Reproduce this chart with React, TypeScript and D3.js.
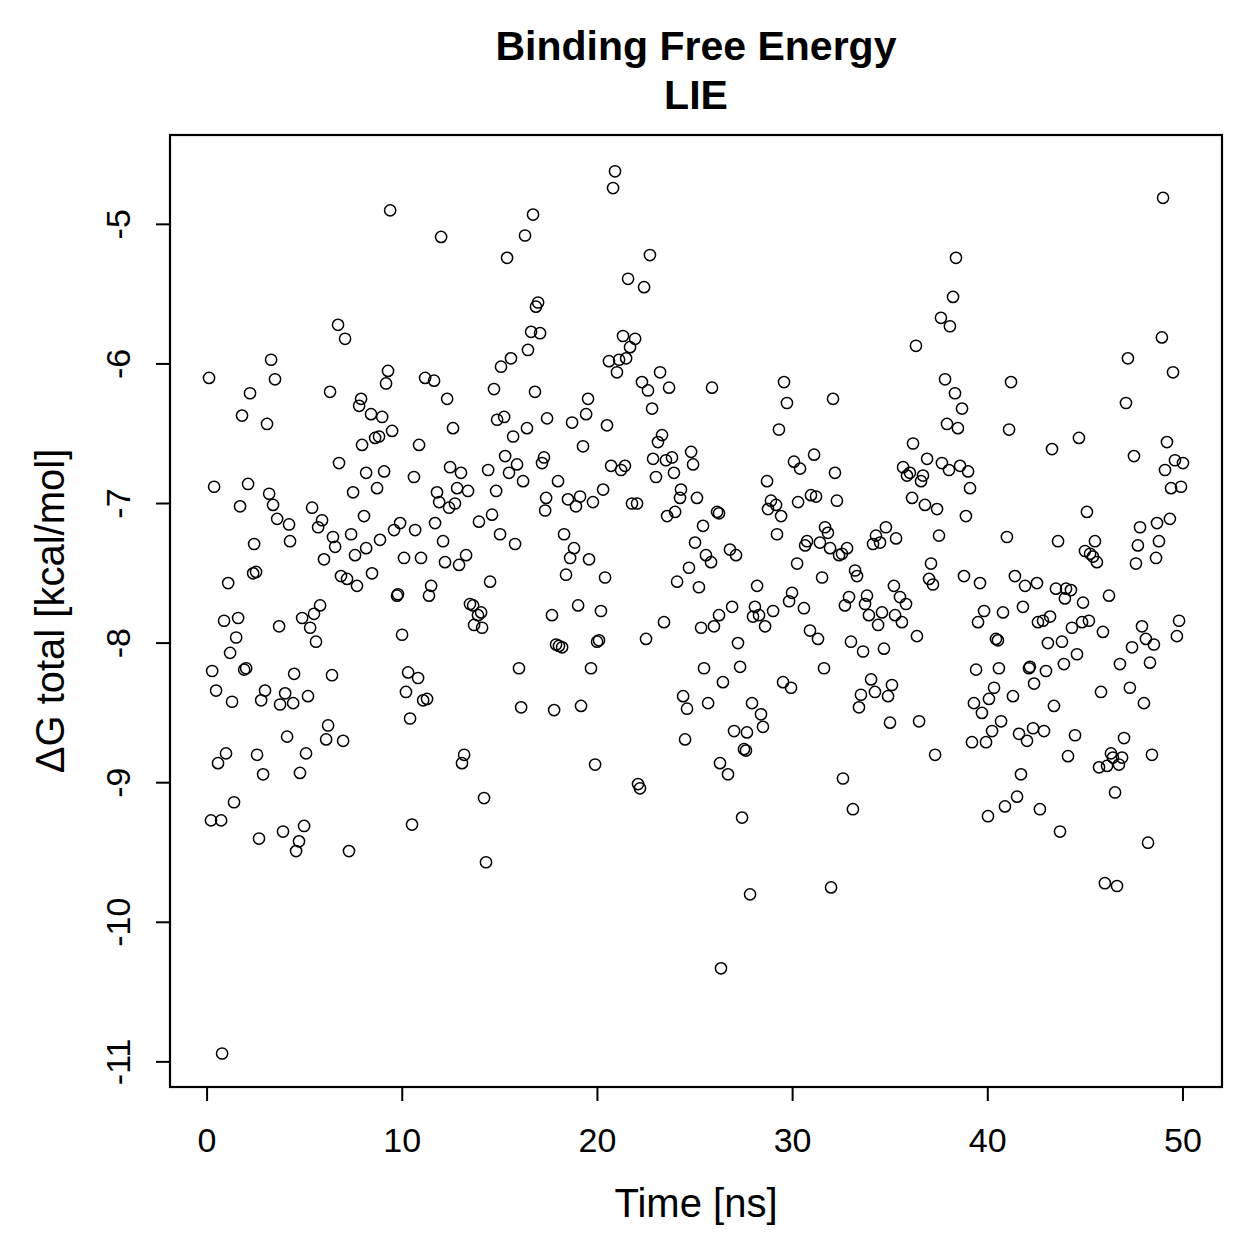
import React from "react";
import * as d3 from "d3";

// Simulation time (ns) of each LIE sample
const timeNs: number[] = [
  0.10,0.20,0.26,0.36,0.46,0.56,0.72,0.77,0.87,0.97,
  1.18,1.08,1.28,1.38,1.49,1.59,1.69,1.79,1.90,2.00,
  2.10,2.20,2.41,2.36,2.51,2.56,2.66,2.77,2.87,2.97,
  3.07,3.18,3.28,3.38,3.48,3.59,3.69,3.74,3.89,4.00,
  4.10,4.20,4.25,4.41,4.46,4.56,4.71,4.76,4.87,4.97,
  5.07,5.17,5.28,5.38,5.48,5.58,5.69,5.79,5.89,5.99,
  6.10,6.20,6.30,6.40,6.45,6.56,6.71,6.76,6.86,6.97,
  7.07,7.17,7.27,7.38,7.48,7.58,7.68,7.79,7.89,7.94,
  8.04,8.15,8.15,
  8.40,8.45,8.61,8.71,8.81,8.86,8.97,9.07,9.17,9.27,
  9.38,9.48,9.58,9.73,9.78,9.89,9.99,10.09,10.19,10.30,
  10.40,10.50,10.60,10.66,10.81,10.86,10.96,11.07,11.17,11.27,
  11.37,11.48,11.63,11.68,11.78,11.89,11.99,12.09,12.19,12.30,
  12.40,12.45,12.60,12.70,12.81,12.91,13.01,13.06,13.17,13.27,
  13.37,13.47,13.63,13.68,13.88,14.04,14.09,13.93,14.19,14.29,
  14.40,14.50,14.60,14.70,14.81,14.86,15.01,15.06,15.22,15.27,
  15.37,15.47,15.57,15.68,15.78,15.88,15.98,16.09,16.19,16.29,
  16.39,16.44,16.60,16.70,16.80,16.85,16.96,17.06,17.16,17.26,
  17.37,17.32,
  17.42,17.67,17.78,17.88,17.98,18.03,18.19,18.29,18.39,18.49,
  18.60,18.70,18.80,18.90,19.01,19.11,19.16,19.26,19.42,19.52,
  19.57,19.67,19.77,19.88,19.98,20.08,20.18,20.29,20.39,20.49,
  20.59,20.70,20.80,20.90,21.00,21.11,21.21,21.31,21.41,21.47,
  21.57,21.67,21.77,21.93,22.03,22.08,22.18,22.28,22.39,22.49,
  22.59,22.69,22.80,22.85,23.00,23.10,23.21,23.31,23.41,23.51,
  23.57,23.67,23.82,23.92,23.98,24.08,24.23,24.28,24.39,24.49,
  24.59,24.69,24.80,24.90,25.00,25.10,25.20,25.31,25.41,25.46,
  25.56,25.67,25.82,25.87,25.97,26.13,26.23,26.23,26.28,26.33,
  26.43,26.69,26.79,26.90,27.00,27.10,27.20,27.31,27.41,27.51,
  27.61,27.66,27.82,27.92,27.97,28.07,28.18,28.28,28.38,28.48,
  28.59,28.69,28.74,28.89,29.00,29.15,29.20,29.30,29.41,29.51,
  29.56,29.71,29.82,29.92,29.97,30.07,30.23,30.28,30.38,30.58,
  30.64,30.74,30.89,30.94,31.10,31.20,31.30,31.40,31.51,31.61,
  31.66,31.81,31.92,31.97,32.07,32.17,32.27,32.38,32.53,32.58,
  32.68,32.79,32.89,32.99,33.09,33.20,33.30,33.40,33.50,33.61,
  33.71,33.81,33.91,34.02,34.12,34.22,34.27,34.38,34.48,34.58,
  34.68,34.78,34.89,34.99,35.09,35.19,35.25,35.30,
  35.50,35.60,35.66,35.81,35.86,36.01,36.12,36.17,36.32,36.37,
  36.48,36.58,36.68,36.78,36.89,36.99,37.09,37.19,37.30,37.40,
  37.50,37.60,37.65,37.81,37.91,38.01,38.06,38.22,38.32,38.37,
  38.47,38.58,38.68,38.78,38.88,38.99,39.09,39.19,39.29,39.40,
  39.50,39.60,39.70,39.81,39.91,40.01,40.06,40.22,40.32,40.42,
  40.52,40.57,40.68,40.78,40.88,40.98,41.09,41.19,41.29,41.39,
  41.50,41.60,41.70,41.80,41.91,42.01,42.11,42.16,42.32,42.37,
  42.52,42.57,42.67,42.83,42.88,42.98,43.08,43.19,43.29,43.39,
  43.49,43.60,43.70,43.80,43.90,44.01,43.95,44.11,44.26,44.31,
  44.47,
  44.57,44.67,44.83,44.88,44.98,45.08,45.18,45.24,45.39,45.49,
  45.59,45.70,45.80,45.90,46.00,46.11,46.21,46.31,46.41,46.52,
  46.62,46.72,46.77,46.88,46.98,47.08,47.18,47.28,47.39,47.49,
  47.59,47.69,47.80,47.90,48.00,48.10,48.21,48.31,48.41,48.51,
  48.62,48.67,48.77,48.92,48.98,49.08,49.18,49.33,49.39,49.49,
  49.59,49.69,49.80,49.90,50.00,
];

// ΔG total (kcal/mol) for each sample, same order as timeNs
const deltaG: number[] = [
  -6.10,-9.27,-8.20,-6.88,-8.34,-8.86,-9.27,-10.94,-7.84,-8.79,
  -8.07,-7.57,-8.42,-9.14,-7.96,-7.82,-7.02,-6.37,-8.19,-8.18,
  -6.86,-6.21,-7.29,-7.50,-7.49,-8.80,-9.40,-8.41,-8.94,-8.34,
  -6.43,-6.93,-5.97,-7.01,-6.11,-7.11,-7.88,-8.44,-9.35,-8.36,
  -8.67,-7.15,-7.27,-8.43,-8.22,-9.49,-9.42,-8.93,-7.82,-9.31,
  -8.79,-8.38,-7.89,-7.03,-7.79,-7.99,-7.17,-7.73,-7.12,-7.40,
  -8.69,-8.59,-6.20,-8.23,-7.24,-7.31,-5.72,-6.71,-7.52,-8.70,
  -5.82,-7.54,-9.49,-7.22,-6.92,-7.37,-7.59,-6.30,-6.25,-6.58,
  -7.09,-6.78,-7.32,
  -6.36,-7.50,-6.53,-6.89,-6.52,-7.26,-6.38,-6.77,-6.14,-6.05,
  -4.90,-6.48,-7.19,-7.66,-7.65,-7.14,-7.94,-7.39,-8.35,-8.21,
  -8.54,-9.30,-6.81,-7.19,-8.25,-6.58,-7.39,-8.41,-6.10,-8.40,
  -7.66,-7.59,-6.12,-7.14,-6.92,-6.99,-5.09,-7.27,-7.42,-6.25,
  -7.03,-6.74,-6.46,-7.00,-6.89,-7.44,-6.78,-8.86,-8.80,-7.37,
  -6.91,-7.72,-7.73,-7.87,-7.80,-7.78,-7.89,-7.13,-9.11,-9.57,
  -6.76,-7.56,-7.08,-6.18,-6.91,-6.40,-7.22,-6.02,-6.38,-6.66,
  -5.24,-6.78,-5.96,-6.52,-7.29,-6.72,-8.18,-8.46,-6.84,-5.08,
  -6.46,-5.90,-5.77,-4.93,-6.20,-5.59,-5.56,-5.78,-6.71,-6.67,
  -6.96,-7.05,
  -6.39,-7.80,-8.48,-8.01,-6.84,-8.02,-8.03,-7.22,-7.51,-6.97,
  -7.39,-6.42,-7.32,-7.02,-7.73,-6.95,-8.45,-6.59,-6.36,-6.25,
  -7.40,-8.18,-6.99,-8.87,-7.99,-7.98,-7.77,-6.90,-7.53,-6.44,
  -5.98,-6.73,-4.74,-4.62,-6.06,-5.97,-6.76,-5.80,-6.73,-5.96,
  -5.39,-5.88,-7.00,-5.82,-7.00,-9.01,-9.04,-6.13,-5.45,-7.97,
  -6.19,-5.22,-6.32,-6.68,-6.81,-6.56,-6.06,-6.51,-7.85,-6.69,
  -7.09,-6.17,-6.67,-6.78,-7.06,-7.56,-6.96,-6.90,-8.38,-8.69,
  -8.47,-7.46,-6.63,-6.72,-7.28,-6.96,-7.60,-7.89,-7.16,-8.18,
  -7.37,-8.43,-7.42,-6.17,-7.88,-7.06,-7.07,-7.80,-8.86,-10.33,
  -8.28,-8.94,-7.33,-7.74,-8.63,-7.37,-8.00,-8.17,-9.25,-8.76,
  -8.77,-8.64,-9.80,-8.43,-7.81,-7.74,-7.59,-7.80,-8.51,-8.60,
  -7.88,-6.84,-7.04,-6.98,-7.77,-7.01,-7.22,-6.47,-7.09,-8.28,
  -6.13,-6.28,-7.70,-8.32,-7.64,-6.70,-7.43,-6.99,-6.75,-7.75,
  -7.30,-7.27,-7.91,-6.94,-6.65,-6.95,-7.97,-7.28,-7.53,-8.18,
  -7.17,-7.21,-7.32,-9.75,-6.25,-6.78,-6.98,-7.37,-7.36,-8.97,
  -7.73,-7.32,-7.67,-7.99,-9.19,-7.48,-7.52,-8.46,-8.37,-8.06,
  -7.72,-7.66,-7.80,-8.26,-7.29,-8.35,-7.23,-7.87,-7.28,-7.78,
  -8.04,-7.17,-8.38,-8.57,-8.30,-7.59,-7.80,-7.25,
  -7.67,-7.85,-6.74,-7.72,-6.80,-6.78,-6.96,-6.57,-5.87,-7.95,
  -8.56,-6.84,-6.80,-7.01,-6.68,-7.54,-7.43,-7.58,-8.80,-7.04,
  -7.23,-5.67,-6.71,-6.11,-6.43,-6.76,-5.73,-5.52,-6.21,-5.24,
  -6.46,-6.73,-6.32,-7.52,-7.09,-6.77,-6.89,-8.71,-8.43,-8.19,
  -7.85,-7.57,-8.50,-7.77,-8.71,-9.24,-8.40,-8.63,-8.32,-7.97,
  -7.98,-8.18,-8.56,-7.78,-9.17,-7.24,-6.47,-6.13,-8.38,-7.52,
  -9.10,-8.65,-8.94,-7.74,-7.59,-8.70,-8.18,-8.17,-8.61,-8.29,
  -7.57,-7.85,-9.19,-7.84,-8.63,-8.20,-8.00,-7.81,-6.61,-8.45,
  -7.61,-7.27,-9.35,-7.99,-8.15,-7.61,-7.68,-8.81,-7.62,-7.89,
  -8.66,
  -8.08,-6.53,-7.85,-7.71,-7.34,-7.06,-7.84,-7.36,-7.38,-7.27,
  -7.42,-8.89,-8.35,-7.92,-9.72,-8.88,-7.66,-8.79,-8.82,-9.07,
  -9.74,-8.87,-8.15,-8.82,-8.68,-6.28,-5.96,-8.32,-8.03,-6.66,
  -7.43,-7.30,-7.17,-7.88,-8.43,-7.97,-9.43,-8.14,-8.80,-8.01,
  -7.39,-7.14,-7.27,-5.81,-4.81,-6.76,-6.56,-7.11,-6.89,-6.06,
  -6.69,-7.95,-7.84,-6.88,-6.71,
];

const xTicks: number[] = [0, 10, 20, 30, 40, 50];
const yTicks: number[] = [-5, -6, -7, -8, -9, -10, -11];

const titleLines: string[] = ["Binding Free Energy", "LIE"];
const xLabel = "Time [ns]";
const yLabel = "ΔG total [kcal/mol]";

const W = 1259;
const H = 1259;
const frame = { left: 170, right: 1222, top: 135, bottom: 1087 };
const FONT = "'Liberation Sans', Arial, Helvetica, sans-serif";

export default function App() {
  // Axis limits include R-style 4% padding around the data range
  const x = d3.scaleLinear().domain([-1.9, 52.0]).range([frame.left, frame.right]);
  const y = d3.scaleLinear().domain([-11.18, -4.36]).range([frame.bottom, frame.top]);

  const points = d3.zip(timeNs, deltaG) as [number, number][];
  const cx = (frame.left + frame.right) / 2;
  const cy = (frame.top + frame.bottom) / 2;

  return (
    <svg
      width={W}
      height={H}
      viewBox={`0 0 ${W} ${H}`}
      style={{ position: "absolute", left: 0, top: 0, background: "#fff" }}
      fontFamily={FONT}
    >
      <rect x={0} y={0} width={W} height={H} fill="#fff" />

      {/* title */}
      <g fontWeight="bold" fontSize={41} textAnchor="middle" fill="#000">
        <text x={cx} y={60}>{titleLines[0]}</text>
        <text x={cx} y={109}>{titleLines[1]}</text>
      </g>

      {/* scatter points */}
      <g fill="none" stroke="#000" strokeWidth={1.5}>
        {points.map(([t, v], i) => (
          <circle key={i} cx={x(t)} cy={y(v)} r={5.6} />
        ))}
      </g>

      {/* plot frame */}
      <rect
        x={frame.left}
        y={frame.top}
        width={frame.right - frame.left}
        height={frame.bottom - frame.top}
        fill="none"
        stroke="#000"
        strokeWidth={2.2}
      />

      {/* x axis */}
      <g stroke="#000" strokeWidth={2}>
        <line x1={x(xTicks[0])} x2={x(xTicks[xTicks.length - 1])} y1={frame.bottom} y2={frame.bottom} />
        {xTicks.map((t) => (
          <line key={t} x1={x(t)} x2={x(t)} y1={frame.bottom} y2={frame.bottom + 14} />
        ))}
      </g>
      <g fontSize={34} textAnchor="middle" fill="#000">
        {xTicks.map((t) => (
          <text key={t} x={x(t)} y={1152}>{t}</text>
        ))}
      </g>
      <text x={cx} y={1217} fontSize={40} textAnchor="middle" fill="#000">{xLabel}</text>

      {/* y axis */}
      <g stroke="#000" strokeWidth={2}>
        <line x1={frame.left} x2={frame.left} y1={y(yTicks[0])} y2={y(yTicks[yTicks.length - 1])} />
        {yTicks.map((v) => (
          <line key={v} x1={frame.left} x2={frame.left - 14} y1={y(v)} y2={y(v)} />
        ))}
      </g>
      <g fontSize={34} textAnchor="middle" fill="#000">
        {yTicks.map((v) => (
          <text key={v} transform={`translate(130,${y(v)}) rotate(-90)`}>{v}</text>
        ))}
      </g>
      <text transform={`translate(64,${cy}) rotate(-90)`} fontSize={40} textAnchor="middle" fill="#000">
        {yLabel}
      </text>
    </svg>
  );
}
